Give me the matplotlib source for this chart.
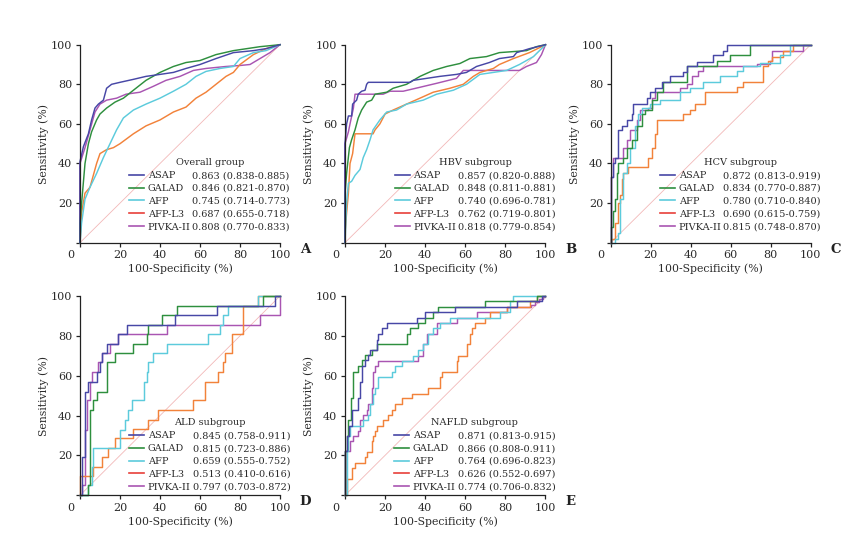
import matplotlib
matplotlib.use("Agg")
import matplotlib.pyplot as plt
import matplotlib.transforms as mtransforms
from matplotlib.lines import Line2D

plt.rcParams['font.family'] = ['DejaVu Serif']

# ---------------- data ----------------
MARKERS = ["ASAP", "GALAD", "AFP", "AFP-L3", "PIVKA-II"]
CURVE_COLORS = ["#4747a6", "#2e8f3e", "#5ccbdc", "#f2823a", "#a955b2"]
LEGEND_COLORS = ["#4747a6", "#2e8f3e", "#5ccbdc", "#e8403a", "#a955b2"]
TICKS = [0, 20, 40, 60, 80, 100]
DIAG = [0, 100]

TITLES = ["Overall group", "HBV subgroup", "HCV subgroup", "ALD subgroup", "NAFLD subgroup"]
LETTERS = ["A", "B", "C", "D", "E"]

AUC_A = ["0.863 (0.838-0.885)", "0.846 (0.821-0.870)", "0.745 (0.714-0.773)",
         "0.687 (0.655-0.718)", "0.808 (0.770-0.833)"]
AUC_B = ["0.857 (0.820-0.888)", "0.848 (0.811-0.881)", "0.740 (0.696-0.781)",
         "0.762 (0.719-0.801)", "0.818 (0.779-0.854)"]
AUC_C = ["0.872 (0.813-0.919)", "0.834 (0.770-0.887)", "0.780 (0.710-0.840)",
         "0.690 (0.615-0.759)", "0.815 (0.748-0.870)"]
AUC_D = ["0.845 (0.758-0.911)", "0.815 (0.723-0.886)", "0.659 (0.555-0.752)",
         "0.513 (0.410-0.616)", "0.797 (0.703-0.872)"]
AUC_E = ["0.871 (0.813-0.915)", "0.866 (0.808-0.911)", "0.764 (0.696-0.823)",
         "0.626 (0.552-0.697)", "0.774 (0.706-0.832)"]

# Panel A: overall
A_ASAP_X = [0, 0, 1.7, 4.2, 5.8, 7.5, 9.2, 11.7, 13.3, 15.8, 20, 26.7, 33, 40, 46.7, 53, 60, 68, 76.7, 86.7, 93, 100]
A_ASAP_Y = [0, 41, 48.5, 55, 62, 68, 70, 72, 78, 80, 81, 82.5, 84, 85, 86, 88, 90, 93, 96, 97, 98, 100]
A_GALAD_X = [0, 0, 0.8, 2.5, 4.2, 5.8, 8.3, 10, 13.3, 17.5, 21.7, 26.7, 33, 40, 46.7, 53, 60, 68, 76.7, 90, 100]
A_GALAD_Y = [0, 10, 20, 40, 50, 56, 62, 65, 68, 71, 73, 77, 82, 86, 89, 91, 92, 95, 97, 99, 100]
A_AFP_X = [0, 0.8, 2.5, 5, 8.3, 11.7, 15, 18.3, 21.7, 26.7, 33, 40, 46.7, 53, 58, 63, 70, 76.7, 80, 86.7, 93, 100]
A_AFP_Y = [0, 10, 22, 28, 35, 43, 50, 57, 63, 67, 70, 73, 76.5, 80, 84, 86.5, 88, 89, 93, 96, 97, 100]
A_L3_X = [0, 0.8, 2.5, 5, 8.3, 10, 13.3, 16.7, 20, 26.7, 33, 40, 46.7, 53, 58, 63, 68, 73, 76.7, 80, 86.7, 93, 100]
A_L3_Y = [0, 15, 25, 28, 40, 45, 47, 48, 50, 55, 59, 62, 66, 68.5, 73, 76, 80, 84, 86, 90, 95, 98, 100]
A_PIVKA_X = [0, 0, 2.5, 5, 7.5, 10, 13.3, 18.3, 23, 30, 36.7, 43, 50, 56.7, 63, 73, 80, 85, 90, 95, 100]
A_PIVKA_Y = [0, 40, 48, 57, 66, 70, 72, 73, 75, 76, 79, 82, 84, 87, 88, 89, 89.5, 90, 93, 96, 100]

# Panel B: HBV
B_ASAP_X = [0, 0, 0.8, 1.7, 3.3, 3.8, 5.8, 6.6, 8.3, 10, 10.8, 11.6, 32.4, 34, 40.7, 47.3, 55.6, 60.6, 65.6, 72, 77, 84, 85.6, 92, 100]
B_ASAP_Y = [0, 50, 60, 64, 64, 70, 72, 75, 76.5, 77, 80, 81, 81, 82, 83, 84, 85, 86, 89, 91, 93, 94, 96, 98, 100]
B_GALAD_X = [0, 0, 0.8, 2.2, 3.3, 5, 6.6, 8.3, 10.8, 13.3, 15, 20.8, 24, 30.7, 37.4, 44, 50.7, 57.3, 62.3, 70.6, 77, 90.5, 95.5, 100]
B_GALAD_Y = [0, 25, 35, 48, 52, 57, 63, 67, 71, 72, 75, 76, 78, 80, 84, 87, 89, 90.5, 93, 94, 96, 97, 99, 100]
B_AFP_X = [0, 0.8, 1.7, 3.3, 5, 7.5, 9.1, 10.8, 12.5, 14, 17.4, 20.8, 25.7, 30.7, 39, 45.7, 54, 60.6, 67.3, 74, 80.6, 87, 94, 100]
B_AFP_Y = [0, 20, 30, 31, 34, 37, 43, 47, 52, 57, 62, 66, 67, 70, 72, 75, 77, 80, 85, 86, 87, 90, 94, 100]
B_L3_X = [0, 0, 0.8, 1.7, 2.5, 3.8, 5, 9.1, 14, 15, 17.4, 20, 24, 30.7, 37.4, 44, 52.3, 59, 64, 67.3, 74, 77, 84, 92, 100]
B_L3_Y = [0, 5, 15, 25, 40, 45, 55, 55, 55, 57, 60, 65, 67, 70, 73, 76, 78, 80, 84, 86, 88, 90, 93, 96, 100]
B_PIVKA_X = [0, 0, 1.7, 2.5, 4.2, 5, 10.8, 19, 22.4, 29, 37.4, 45.7, 55.6, 59, 65.6, 87, 90.5, 95.5, 98, 100]
B_PIVKA_Y = [0, 50, 56, 60, 68, 75, 75, 75, 76.5, 76.5, 78.5, 80.5, 83, 87, 87, 87, 89, 91, 95, 100]

# Panel C: HCV (step curves)
C_ASAP_X = [0, 0, 1, 2.2, 3.8, 5.5, 8, 10.5, 11.3, 18, 19.7, 22.2, 25.5, 29.7, 36.3, 38, 43, 51.3, 56, 58, 100]
C_ASAP_Y = [0, 33, 40, 43, 57, 59, 62, 65, 70, 73, 76, 78, 81, 84, 86, 89, 91.5, 95, 97, 100, 100]
C_GALAD_X = [0, 0, 1.3, 2.2, 3, 3.8, 6.3, 8, 10.5, 13, 15.5, 17.2, 20.5, 23, 26.3, 38, 53, 59.7, 69.7, 100]
C_GALAD_Y = [0, 8, 16, 22, 35, 40, 43, 48, 52, 59, 65, 67, 72, 76, 81, 89, 92, 95, 100, 100]
C_AFP_X = [0, 2.2, 3.8, 4.7, 6.3, 8, 9.7, 12.2, 13.8, 15.5, 19.7, 24.7, 34.7, 39.7, 46.3, 54.7, 63, 66.3, 74.7, 84.7, 89.7, 100]
C_AFP_Y = [0, 2, 5, 22, 35, 40, 48, 59, 65, 68, 70, 72, 76, 78, 81, 84, 86.5, 89, 91, 95, 100, 100]
C_L3_X = [0, 0, 2.2, 3.8, 4.7, 5.5, 6.3, 8.8, 18.8, 20.5, 22.2, 23.3, 36.3, 39.7, 42.2, 47.2, 63, 66.3, 76.3, 78.8, 80.5, 86.3, 91.3, 100]
C_L3_Y = [0, 2, 10, 20, 24, 32, 35, 38, 43, 48, 55, 62, 65, 67, 70, 76, 78.5, 81, 89, 92, 94, 97, 100, 100]
C_PIVKA_X = [0, 0, 1.3, 6.3, 8, 9.7, 13, 14.7, 18.8, 20.5, 22.2, 34.7, 38, 40.5, 43.8, 46.3, 73, 79.7, 80.5, 96.3, 100]
C_PIVKA_Y = [0, 33, 43, 48, 52, 57, 62, 67, 68, 73, 76, 78, 80, 84, 86.5, 89, 90.5, 92, 97, 100, 100]

# Panel D: ALD (step curves)
D_ASAP_X = [0, 0.8, 2.5, 4.2, 8.3, 10, 10.8, 13.3, 19.2, 23.3, 47.5, 68.3, 97.5, 100]
D_ASAP_Y = [0, 19, 52, 57, 62, 67, 71.5, 76, 81, 85.5, 90.5, 95, 100, 100]
D_GALAD_X = [0, 4.2, 5, 6.7, 8.3, 13.3, 17.5, 26.7, 33.3, 34.2, 40.8, 48.3, 91.7, 100]
D_GALAD_Y = [0, 5, 43, 47.6, 52, 67, 71.5, 76, 81, 85.5, 90.5, 95, 100, 100]
D_AFP_X = [0, 4.2, 5.8, 6.7, 20, 22.5, 24.2, 25.8, 32, 33.3, 34.2, 36.7, 43.3, 64.2, 70, 71.7, 74.2, 89.2, 100]
D_AFP_Y = [0, 5, 14, 23.8, 33, 38, 43, 47.6, 57, 62, 67, 71.5, 76, 81, 85.5, 90.5, 95, 100, 100]
D_L3_X = [0, 0, 6.7, 10.8, 14.2, 17.5, 26.7, 34.2, 39.2, 56.7, 62.5, 69.2, 71.7, 72.5, 75.8, 81.3, 89.2, 100]
D_L3_Y = [0, 9.5, 14.3, 19, 23.8, 28.6, 33.3, 38, 43, 47.6, 57, 62, 66.7, 71.5, 81, 95, 100, 100]
D_PIVKA_X = [0, 0.8, 2.5, 3.7, 5, 5.8, 9.2, 10.8, 15, 19.2, 43.3, 90, 100]
D_PIVKA_Y = [0, 5, 33, 47.6, 57, 62, 67, 71.5, 76, 81, 85.5, 90.5, 100]

# Panel E: NAFLD (step curves)
E_ASAP_X = [0, 0, 0.8, 2.2, 3.3, 6.7, 7.5, 8.3, 10, 11.7, 12.5, 15.8, 16.7, 18.3, 20.8, 35.8, 40, 55, 85.8, 98.3, 100]
E_ASAP_Y = [0, 22, 30, 35, 43, 48.6, 57, 65, 68, 70.5, 73, 78, 81, 84, 86.5, 89, 92, 94.6, 97.3, 100, 100]
E_GALAD_X = [0, 0, 0.8, 1.7, 2.8, 3.8, 6.7, 8.3, 10, 13.3, 16.2, 30.8, 32.5, 36.7, 40, 44.2, 46.7, 70, 95.8, 100]
E_GALAD_Y = [0, 22, 30, 38, 48.6, 62, 65, 68, 70.3, 73, 76, 81, 84, 86.5, 89, 92, 94.6, 97.3, 100, 100]
E_AFP_X = [0, 0.8, 1.7, 2.5, 9.2, 11.7, 12.5, 14.2, 15, 16.7, 23.3, 25, 28.3, 34.2, 36.7, 39.2, 41.7, 44.2, 47.5, 52.5, 77.5, 82.5, 84.2, 100]
E_AFP_Y = [0, 22, 30, 35, 38, 40.5, 46, 51, 54, 59.5, 62, 65, 67.5, 70, 73, 76, 81, 84, 86.5, 89, 92, 97.3, 100, 100]
E_L3_X = [0, 0.8, 3.3, 5, 10, 10.8, 13.3, 14.2, 15, 15.8, 19.2, 21.7, 23.3, 25, 28.3, 33.3, 41.7, 47.5, 48.3, 55.8, 56.7, 60.8, 62.5, 63.3, 65, 70, 72.5, 80.8, 92.5, 95.8, 100]
E_L3_Y = [0, 8, 13.5, 16, 19, 21.5, 27, 30, 32.5, 35, 38, 40.5, 43, 46, 48.6, 51, 54, 59.5, 62, 67.5, 70, 76, 81, 84, 86.5, 89, 91.9, 94.6, 97.3, 100, 100]
E_PIVKA_X = [0, 0, 2.5, 4.2, 6.7, 7.5, 9.2, 10.8, 11.7, 13.3, 14.2, 15, 16.7, 36.7, 39.2, 40.8, 45.8, 55.8, 65.8, 80.8, 93, 95, 97, 99, 100]
E_PIVKA_Y = [0, 22, 27, 29.7, 32.5, 38, 40.5, 43, 46, 54, 62, 65, 67.5, 70, 76, 81, 86.5, 89, 92, 94.6, 95.5, 97, 98.5, 99.5, 100]

PANEL_CURVES = [
    [(A_ASAP_X, A_ASAP_Y), (A_GALAD_X, A_GALAD_Y), (A_AFP_X, A_AFP_Y), (A_L3_X, A_L3_Y), (A_PIVKA_X, A_PIVKA_Y)],
    [(B_ASAP_X, B_ASAP_Y), (B_GALAD_X, B_GALAD_Y), (B_AFP_X, B_AFP_Y), (B_L3_X, B_L3_Y), (B_PIVKA_X, B_PIVKA_Y)],
    [(C_ASAP_X, C_ASAP_Y), (C_GALAD_X, C_GALAD_Y), (C_AFP_X, C_AFP_Y), (C_L3_X, C_L3_Y), (C_PIVKA_X, C_PIVKA_Y)],
    [(D_ASAP_X, D_ASAP_Y), (D_GALAD_X, D_GALAD_Y), (D_AFP_X, D_AFP_Y), (D_L3_X, D_L3_Y), (D_PIVKA_X, D_PIVKA_Y)],
    [(E_ASAP_X, E_ASAP_Y), (E_GALAD_X, E_GALAD_Y), (E_AFP_X, E_AFP_Y), (E_L3_X, E_L3_Y), (E_PIVKA_X, E_PIVKA_Y)],
]
PANEL_AUCS = [AUC_A, AUC_B, AUC_C, AUC_D, AUC_E]
PANEL_STEPS = [False, False, True, True, True]

# ---------------- layout ----------------
W, H = 854, 539
fig = plt.figure(figsize=(W / 100, H / 100), dpi=100)

def px_axes(left, top, right, bottom):
    return fig.add_axes([left / W, 1 - bottom / H, (right - left) / W, (bottom - top) / H])

AX_BOXES = [
    (80, 44.7, 280, 242.7),
    (345, 44.7, 545.5, 242.7),
    (610.7, 44.7, 810.7, 242.7),
    (80, 296, 280, 495.3),
    (345, 296, 545, 495.3),
]
LEG_Y = [0.056, 0.056, 0.056, 0.018, 0.018]

TXT = "#2b2b2b"
zero_shift = mtransforms.ScaledTranslation(-9.5 / 100, 0, fig.dpi_scale_trans)

for i, box in enumerate(AX_BOXES):
    ax = px_axes(*box)
    ax.set_xlim(0, 100)
    ax.set_ylim(0, 100)
    for s in ["top", "right"]:
        ax.spines[s].set_visible(False)
    for s in ["left", "bottom"]:
        ax.spines[s].set_linewidth(0.9)
        ax.spines[s].set_color("#222222")

    ax.plot(DIAG, DIAG, color="#f2b8b8", lw=0.6, zorder=1)

    for j, (xs, ys) in enumerate(PANEL_CURVES[i]):
        ax.plot(xs, ys, color=CURVE_COLORS[j], lw=1.05, clip_on=False,
                drawstyle="steps-post" if PANEL_STEPS[i] else "default", zorder=2 + (4 - j) * 0.1)

    ax.set_xticks(TICKS)
    ax.set_xticklabels([str(t) for t in TICKS])
    ax.set_yticks(TICKS)
    ax.set_yticklabels([""] + [str(t) for t in TICKS[1:]])
    ax.tick_params(axis="both", length=2.9, width=0.9, color="#222222",
                   labelsize=8, labelcolor=TXT, pad=2.6)
    lbl0 = ax.get_xticklabels()[0]
    lbl0.set_transform(lbl0.get_transform() + zero_shift)

    ax.set_xlabel("100-Specificity (%)", fontsize=7.8, color=TXT, labelpad=2.5)
    ax.set_ylabel("Sensitivity (%)", fontsize=7.8, color=TXT, labelpad=1.5)

    handles = [Line2D([], [], color=c, lw=1.2) for c in LEGEND_COLORS] + \
              [Line2D([], [], color="none") for _ in MARKERS]
    labels = MARKERS + PANEL_AUCS[i]
    leg = ax.legend(handles, labels, ncol=2, title=TITLES[i], loc="lower right",
                    bbox_to_anchor=(1.052, LEG_Y[i]), frameon=False,
                    fontsize=7, title_fontsize=7, handlelength=1.5,
                    handletextpad=0.4, columnspacing=-1.7, labelspacing=0.4,
                    borderpad=0, borderaxespad=0)
    for t in leg.get_texts():
        t.set_color(TXT)
    leg.get_title().set_color(TXT)

    ax.text(1.1275, -0.032, LETTERS[i], transform=ax.transAxes, ha="center", va="center",
            fontsize=9.5, fontweight="bold", color="#222222")

fig.savefig("out.png", dpi=100)
